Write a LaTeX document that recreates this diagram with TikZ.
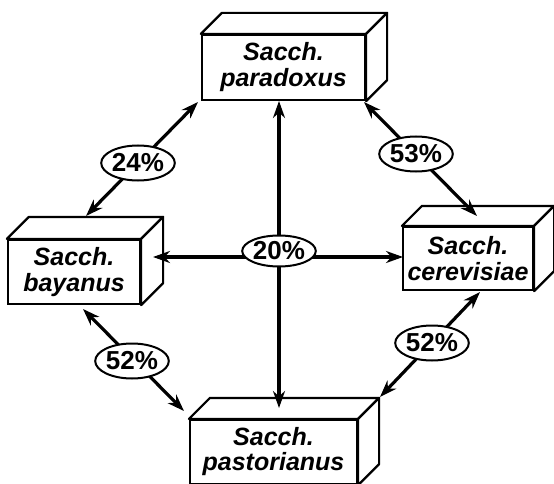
\documentclass[tikz,border=0pt]{standalone}
\usepackage{fontspec}
\setmainfont{Liberation Sans}
\usetikzlibrary{arrows.meta,shapes.geometric,calc}
\newcommand{\cubefaces}[2]{%
  \draw[line width=2.2pt,line join=round,fill=white]
    (#1.north west) -- ++(#2,-#2) -- ($(#1.north east)+(#2,-#2)$) -- (#1.north east) -- cycle;
  \draw[line width=2.2pt,line join=round,fill=white]
    (#1.north east) -- ++(#2,-#2) -- ($(#1.south east)+(#2,-#2)$) -- (#1.south east) -- cycle;
}
\begin{document}
\begin{tikzpicture}[x=1pt,y=-1pt,
  box/.style={draw,line width=2.2pt,fill=white,inner sep=0pt,align=center,
    font=\fontsize{25}{26}\selectfont\bfseries\itshape},
  pct/.style={ellipse,draw,line width=2pt,fill=white,inner sep=0pt,
    minimum width=67pt,minimum height=35pt,font=\fontsize{26}{27}\selectfont\bfseries},
  arr/.style={line width=3.2pt,{Stealth[length=17pt,width=12pt]}-{Stealth[length=17pt,width=12pt]}}]
\useasboundingbox (0,0) rectangle (554,484);
% boxes
\node[box,minimum width=163pt,minimum height=65pt] (par) at (283.5,67.5) {Sacch.\\paradoxus};
\node[box,minimum width=132pt,minimum height=64pt] (bay) at (74,272) {Sacch.\\bayanus};
\node[box,minimum width=130pt,minimum height=63pt] (cer) at (468,258.5) {Sacch.\\cerevisiae};
\node[box,minimum width=167pt,minimum height=64pt] (pas) at (273.5,452) {Sacch.\\[-1pt]pastorianus};
\cubefaces{par}{21}
\cubefaces{bay}{22}
\cubefaces{cer}{20}
\cubefaces{pas}{21}
% connector ends
\coordinate (pb) at (198,102);
\coordinate (bp) at (86,216);
\coordinate (pc) at (364,102);
\coordinate (cp) at (477,216);
\coordinate (bs) at (83,309);
\coordinate (sb) at (184,411);
\coordinate (cs) at (480,292);
\coordinate (sc) at (380,397);
\coordinate (ps) at (279,101);
\coordinate (sp) at (279,408);
\coordinate (bc) at (153,257);
\coordinate (cb) at (403,257);
% connectors
\draw[arr] (pb) -- (bp);
\draw[arr] (pc) -- (cp);
\draw[arr] (bs) -- (sb);
\draw[arr] (cs) -- (sc);
\draw[arr] (ps) -- (sp);
\draw[arr] (bc) -- (cb);
% labels
\node[pct] (e24) at (138,163) {24\%};
\node[pct] (e53) at (416,154) {53\%};
\node[pct] (e52a) at (132,361) {52\%};
\node[pct] (e52b) at (432,343) {52\%};
\node[pct,minimum height=31pt] (e20) at (279,251) {20\%};
\end{tikzpicture}
\end{document}
